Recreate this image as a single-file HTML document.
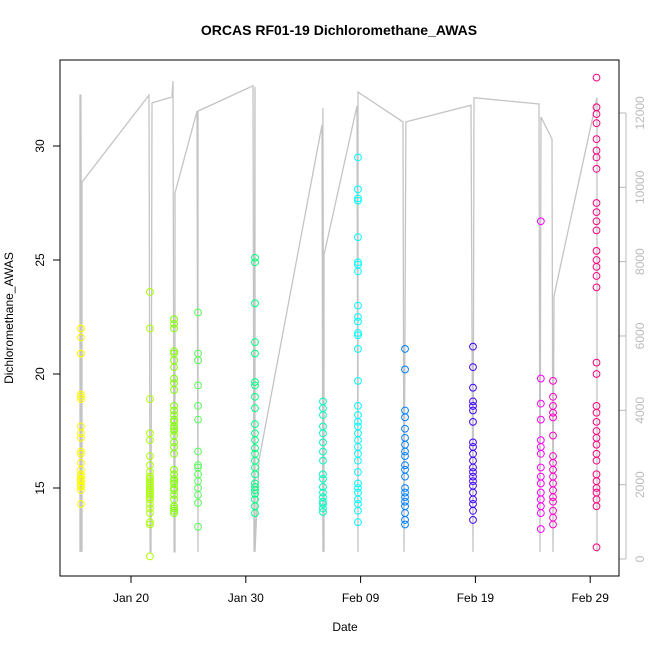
<!DOCTYPE html>
<html><head><meta charset="utf-8"><style>
body{margin:0;background:#fff}
svg{display:block;font-family:"Liberation Sans",Arial,sans-serif}
</style></head><body>
<svg id="chart" width="650" height="650">
<rect width="650" height="650" fill="#fff"/>
<text x="339" y="35" text-anchor="middle" font-size="14" font-weight="bold">ORCAS RF01-19 Dichloromethane_AWAS</text>
<text x="345" y="631" text-anchor="middle" font-size="12">Date</text>
<text transform="translate(13,318) rotate(-90)" text-anchor="middle" font-size="12">Dichloromethane_AWAS</text>
<g id="alt"></g>
<g id="pts"></g>
<g id="axes"></g>
<rect x="60" y="60" width="559" height="516" fill="none" stroke="#000"/>
</svg>
<script>
// days relative to Jan 20
const flightDays=[-4.36,1.65,3.75,5.84,10.8,16.72,19.77,23.87,29.79,35.7,36.76,40.55];
const flightColors=["#FFFF00","#AAFF00","#80FF00","#55FF55","#00FF80","#00FFC0","#00FFFF","#0080FF","#4000FF","#FF00FF","#FF00CC","#FF0080"];
const f1=[22.0,21.6,20.9,19.1,18.9,17.7,17.2,16.5,16.1,15.8,15.6,15.35,15.2,15.05,14.9,14.3,15.3,15.5,15.1,15.4,16.6,17.4,19.0,22.0,20.9];
const f2=[23.6,22.0,18.9,17.4,17.1,16.4,16.0,15.7,15.5,15.3,15.2,15.0,14.9,14.8,14.7,14.5,14.3,14.1,13.9,13.5,13.4,12.0,15.1,15.4,14.6,14.9];
const f3=[22.4,22.2,22.0,21.0,20.9,20.6,20.3,19.8,19.6,19.3,18.6,18.4,18.2,17.9,17.7,17.5,17.3,17.0,16.8,16.5,15.8,15.6,15.4,15.2,15.0,14.9,14.7,14.5,14.2,14.0,13.9,14.1,15.3,17.6,18.0];
const f4=[22.7,20.9,20.6,19.5,18.6,18.0,16.6,16.0,15.9,15.6,15.3,15.0,14.7,14.35,13.3];
const f5=[25.1,24.9,23.1,21.4,20.9,19.65,19.5,19.0,18.5,17.8,17.4,17.1,16.75,16.5,16.2,15.9,15.6,15.2,15.05,14.9,14.75,14.5,14.2,13.9];
const f6=[18.8,18.5,18.2,17.7,17.4,17.0,16.6,16.2,15.6,15.4,15.05,14.8,14.6,14.4,14.3,14.1,13.95];
const f7=[29.5,28.1,27.7,27.6,26.0,24.9,24.8,24.5,23.0,22.5,22.3,21.8,21.7,21.1,19.7,18.6,18.2,17.9,17.7,17.4,17.1,16.8,16.5,16.2,15.7,15.2,15.0,14.8,14.5,14.3,14.0,13.5];
const f8=[21.1,20.2,18.4,18.1,17.6,17.2,16.9,16.6,16.4,16.0,15.8,15.5,15.0,14.8,14.6,14.4,14.2,13.9,13.6,13.4];
const f9=[21.2,20.3,19.4,18.8,18.6,18.4,17.9,17.0,16.8,16.5,16.2,15.9,15.7,15.5,15.3,15.1,14.8,14.5,14.3,14.0,13.6];
const f10=[26.7,19.8,18.7,18.0,17.1,16.8,16.5,15.9,15.5,15.2,14.8,14.5,14.2,13.9,13.2];
const f11=[19.7,19.0,18.6,18.3,18.1,17.3,16.4,16.1,15.8,15.5,15.2,14.9,14.6,14.4,14.0,13.7,13.4];
const f12=[33.0,31.7,31.4,31.0,30.3,29.8,29.5,29.0,27.5,27.1,26.7,26.3,25.4,25.0,24.7,24.3,23.8,20.5,20.0,18.6,18.3,17.9,17.5,17.2,16.9,16.5,16.2,15.6,15.3,15.0,14.8,14.5,14.2,12.4];
const flightValues=[f1,f2,f3,f4,f5,f6,f7,f8,f9,f10,f11,f12];
const altDays=[-4.44,-4.44,-4.36,-4.36,-4.27,-4.27,1.57,1.66,1.74,1.83,3.57,3.66,3.75,3.83,3.83,5.75,5.84,5.84,10.63,10.71,10.8,10.8,11.15,16.64,16.72,16.72,16.81,16.81,19.69,19.77,19.77,23.69,23.78,23.95,29.62,29.79,29.88,35.54,35.63,35.71,36.67,36.76,36.85,40.59,40.59];
const altKft=[0.19,12.5,0.19,12.5,0.19,10.14,12.48,0.19,0.19,12.27,12.43,12.86,0.19,0.19,9.85,12.05,0.19,12.05,12.73,0.19,12.7,0.19,2.66,11.68,0.19,12.13,0.19,8.18,12.19,0.19,12.56,11.76,0.19,11.76,12.21,0.19,12.41,12.24,0.19,11.89,11.3,0.19,7.08,12.41,0.19];
const xTickDays=[0,10,20,30,40];
const xTickLabels=["Jan 20","Jan 30","Feb 09","Feb 19","Feb 29"];
const yTicks=[15,20,25,30];
const altTicks=[0,2000,4000,6000,8000,10000,12000];

const NS="http://www.w3.org/2000/svg";
const xS=d=>131+d*11.48;
const yS=v=>488-(v-15)*22.8;
const aS=a=>559-a*0.03717;
function mk(t,a,p){const e=document.createElementNS(NS,t);for(const k in a)e.setAttribute(k,a[k]);p.appendChild(e);return e;}
const altG=document.getElementById('alt'),ptG=document.getElementById('pts'),axG=document.getElementById('axes');
let d="";
altDays.forEach((t,i)=>{d+=(i?"L":"M")+xS(t).toFixed(1)+","+aS(altKft[i]*1000).toFixed(1);});
const pl=mk('path',{d:d,fill:'none',stroke:'#c4c4c4','stroke-width':1.3},altG);


flightValues.forEach((vals,fi)=>{
  vals.forEach(v=>{
    const c=mk('circle',{cx:xS(flightDays[fi]),cy:yS(v),r:3.4,fill:'none',stroke:flightColors[fi],'stroke-width':1},ptG);
    
    
  });
});
xTickDays.forEach((t,i)=>{
  const x=xS(t);
  mk('line',{x1:x,x2:x,y1:576,y2:583,stroke:'#000'},axG);
  const tx=mk('text',{x:x,y:602,'text-anchor':'middle','font-size':12},axG);
  tx.textContent=xTickLabels[i];
  
  
});
yTicks.forEach(v=>{
  const y=yS(v);
  mk('line',{x1:53,x2:60,y1:y,y2:y,stroke:'#000'},axG);
  const tx=mk('text',{transform:`translate(44,${y}) rotate(-90)`,'text-anchor':'middle','font-size':12},axG);
  tx.textContent=v;
  
  
});
mk('line',{x1:626,x2:626,y1:aS(0),y2:aS(12000),stroke:'#bbb'},axG);
altTicks.forEach(v=>{
  const y=aS(v);
  mk('line',{x1:619,x2:626,y1:y,y2:y,stroke:'#bbb'},axG);
  const tx=mk('text',{transform:`translate(644,${y}) rotate(-90)`,'text-anchor':'middle','font-size':12,fill:'#bbb'},axG);
  tx.textContent=v;
  
  
});
</script>
</body></html>
